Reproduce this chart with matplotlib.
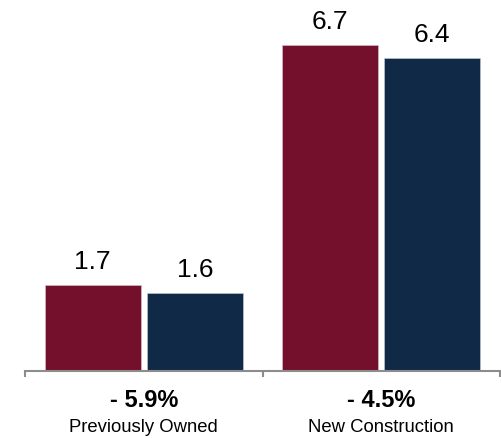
import matplotlib
matplotlib.use("Agg")
import matplotlib.pyplot as plt
from matplotlib import font_manager
import numpy as np

plt.rcParams['font.family'] = ['Liberation Sans', 'DejaVu Sans']

categories = ["Previously Owned", "New Construction"]
changes = ["- 5.9%", "- 4.5%"]
series_a = [1.77, 6.70]
series_b = [1.60, 6.43]
labels_a = ["1.7", "6.7"]
labels_b = ["1.6", "6.4"]

color_a = "#74102C"
color_b = "#0F2946"

names = {f.name for f in font_manager.fontManager.ttflist}
narrow = 'Liberation Sans Narrow' in names
val_family = ['Liberation Sans Narrow', 'Liberation Sans'] if narrow else ['Liberation Sans']
val_size = 21 if narrow else 19

fig = plt.figure(figsize=(5.01, 4.38), dpi=100)
H = 371.0
ax = fig.add_axes([25/501, (438 - H)/438, 475/501, H/438])

x = np.arange(len(categories))
w = 0.404
off = 0.215
ba = ax.bar(x - off, series_a, width=w, color=color_a, edgecolor="#d9c9cf", linewidth=0.4)
bb = ax.bar(x + off, series_b, width=w, color=color_b, edgecolor="#c8d0da", linewidth=0.4)

for bars, labs in ((ba, labels_a), (bb, labels_b)):
    for rect, lab in zip(bars, labs):
        ax.annotate(lab, (rect.get_x() + rect.get_width()/2, rect.get_height()),
                    xytext=(0, 16), textcoords="offset pixels", ha="center", va="baseline",
                    fontsize=val_size, family=val_family)

ax.set_xlim(-0.5, 1.5)
ax.set_ylim(0, H/48.66)
for s in ["top", "right", "left"]:
    ax.spines[s].set_visible(False)
ax.spines["bottom"].set_color("#8c8c8c")
ax.spines["bottom"].set_linewidth(1.5)
ax.set_yticks([])
ax.set_xticks([-0.5, 0.5, 1.5])
ax.set_xticklabels([])
ax.tick_params(axis="x", direction="out", length=4.5, width=1.5, color="#8c8c8c")

for xi, ch, cat in zip(x, changes, categories):
    ax.annotate(ch, (xi, 0), xycoords=("data", "axes fraction"), xytext=(0, -35.7),
                textcoords="offset pixels", ha="center", va="baseline", fontsize=17, fontweight="bold")
    ax.annotate(cat, (xi, 0), xycoords=("data", "axes fraction"), xytext=(0, -60.7),
                textcoords="offset pixels", ha="center", va="baseline", fontsize=13.3)

fig.savefig("out.png", dpi=100)
